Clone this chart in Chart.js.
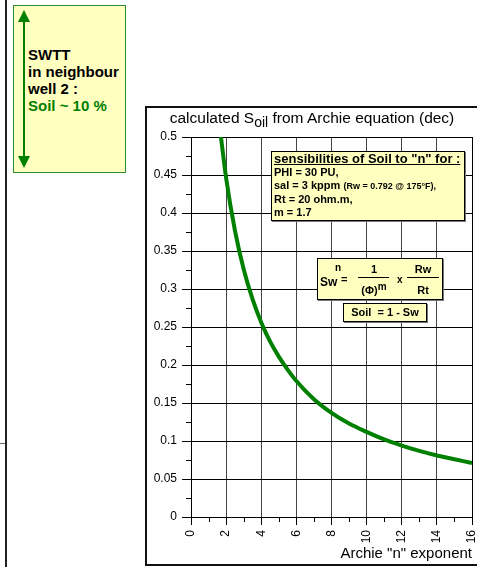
<!DOCTYPE html>
<html><head><meta charset="utf-8">
<script src="https://cdn.jsdelivr.net/npm/chart.js@4/dist/chart.umd.min.js"></script>
<style>
html,body{margin:0;padding:0;background:#fff}
body{width:477px;height:567px;overflow:hidden;position:relative;font-family:"Liberation Sans",Arial,Helvetica,sans-serif;color:#000}
#c{position:absolute;left:0;top:0}
.abs{position:absolute}
#outer{left:145px;top:106px;width:345px;height:460px;border:2px solid #111;box-sizing:border-box}
#leftline{left:5px;top:0;width:2px;height:567px;background:#222}
#lefttick{left:0;top:443px;width:5px;height:1px;background:#666}
#swtt{left:13px;top:5px;width:113px;height:168px;background:#ffffc0;border:1.5px solid #2e8b2e;box-sizing:border-box}
#swtttext{left:28px;top:46px;font-weight:bold;font-size:15px;line-height:17px;white-space:nowrap}
#title{left:145px;width:334px;top:109px;text-align:center;font-size:15.5px;line-height:17px;white-space:nowrap}
#title sub{font-size:14px;vertical-align:-4px;line-height:0}
#note{left:271px;top:151px;width:194px;height:70px;background:#ffffc0;border:1px solid #000;box-sizing:border-box;box-shadow:1px 1px 0 #777;font-weight:bold;font-size:11px;line-height:13px;padding:0 0 0 2px;white-space:nowrap}
#note .t{font-size:13px;text-decoration:underline}
#note .small{font-size:9px}
#formula{left:317px;top:258px;width:126px;height:42px;background:#ffffc0;border:1px solid #000;box-sizing:border-box;box-shadow:1px 1px 0 #777;font-weight:bold;font-size:11px}
#formula span{position:absolute;line-height:12px;white-space:nowrap}
#formula .c{text-align:center}
#formula .bar{position:absolute;height:1px;background:#000}
#soilbox{left:343px;top:303px;width:84px;height:19px;background:#ffffc0;border:1px solid #000;box-sizing:border-box;box-shadow:1px 1px 0 #777;font-weight:bold;font-size:11px;line-height:17px;text-align:center;white-space:pre}
</style></head><body>
<div id="outer" class="abs"></div>
<canvas id="c" width="477" height="567"></canvas>
<div id="leftline" class="abs"></div>
<div id="lefttick" class="abs"></div>
<div id="swtt" class="abs"></div>
<svg class="abs" style="left:0;top:0" width="40" height="180">
<line x1="24" y1="20" x2="24" y2="158" stroke="#008000" stroke-width="2"/>
<polygon points="24,10 18,22 30,22" fill="#008000"/>
<polygon points="24,168 18,156 30,156" fill="#008000"/>
</svg>
<div id="swtttext" class="abs">SWTT<br>in neighbour<br>well 2 :<br><span style="color:#008000">Soil ~ 10 %</span></div>
<div id="title" class="abs">calculated S<sub>oil</sub> from Archie equation (dec)</div>
<div id="note" class="abs"><span class="t">sensibilities of Soil to "n" for :</span><br>PHI = 30 PU,<br>sal = 3 kppm <span class="small">(Rw = 0.792 @ 175°F),</span><br>Rt = 20 ohm.m,<br>m = 1.7</div>
<div id="formula" class="abs">
<span style="left:2px;top:17px;font-size:12px">Sw</span>
<span style="left:17px;top:3px;font-size:10px">n</span>
<span style="left:23px;top:14px">=</span>
<span class="c" style="left:40px;width:32px;top:4px">1</span>
<div class="bar" style="left:40px;width:31px;top:18px"></div>
<span class="c" style="left:40px;width:32px;top:25px">(Φ)<sup style="font-size:10px;vertical-align:4px;line-height:0">m</sup></span>
<span style="left:79px;top:15px;font-size:10px">x</span>
<span class="c" style="left:88px;width:34px;top:4px">Rw</span>
<div class="bar" style="left:89px;width:32px;top:18px"></div>
<span class="c" style="left:88px;width:34px;top:25px">Rt</span>
</div>
<div id="soilbox" class="abs">Soil  = 1 - Sw</div>
<script>
const archieN = [1.7, 2, 2.5, 3, 3.5, 4, 4.5, 5, 5.5, 6, 7, 8, 9, 10, 11, 12, 13, 14, 15, 16];
const soilFraction = [0.501, 0.446, 0.377, 0.326, 0.287, 0.256, 0.231, 0.211, 0.194, 0.179, 0.155, 0.137, 0.123, 0.112, 0.102, 0.094, 0.087, 0.081, 0.076, 0.071];
const xTickLabels = ["0", "2", "4", "6", "8", "10", "12", "14", "16"];
const yTickLabels = ["0", "0.05", "0.1", "0.15", "0.2", "0.25", "0.3", "0.35", "0.4", "0.45", "0.5"];

const points = archieN.map((n, i) => ({x: n, y: soilFraction[i]}));
const isMajorY = v => Math.round(v * 1000) % 50 === 0;
const isMajorX = v => Math.round(v) % 2 === 0;

const extras = {
  id: 'extras',
  afterDraw(chart) {
    const ctx = chart.ctx, y = chart.scales.y, x = chart.scales.x, a = chart.chartArea;
    ctx.save();
    ctx.strokeStyle = '#000'; ctx.lineWidth = 1;
    y.ticks.forEach(t => {
      if (!isMajorY(t.value)) {
        const p = Math.round(y.getPixelForValue(t.value)) + 0.5;
        ctx.beginPath(); ctx.moveTo(a.left - 5, p); ctx.lineTo(a.left, p); ctx.stroke();
      }
    });
    x.ticks.forEach(t => {
      if (!isMajorX(t.value)) {
        const p = Math.round(x.getPixelForValue(t.value)) + 0.5;
        ctx.beginPath(); ctx.moveTo(p, a.bottom); ctx.lineTo(p, a.bottom + 5); ctx.stroke();
      }
    });
    const r = Math.round(x.getPixelForValue(16)) + 0.5;
    ctx.beginPath(); ctx.moveTo(r, a.top); ctx.lineTo(r, a.bottom); ctx.stroke();
    ctx.restore();
  }
};

new Chart(document.getElementById('c'), {
  type: 'line',
  data: { datasets: [{
    data: points, borderColor: '#008000', borderWidth: 4, pointRadius: 0,
    tension: 0.4, cubicInterpolationMode: 'monotone', fill: false
  }]},
  options: {
    responsive: false, animation: false,
    layout: { padding: { left: 145, top: 137, right: 5, bottom: 4 } },
    plugins: { legend: { display: false }, tooltip: { enabled: false } },
    scales: {
      x: {
        type: 'linear', min: 0, max: 16,
        ticks: {
          stepSize: 1, autoSkip: false, maxRotation: 90, minRotation: 90,
          font: { family: '"Liberation Sans", Arial', size: 12 }, color: '#000', padding: 5,
          callback: v => isMajorX(v) ? xTickLabels[Math.round(v) / 2] : ''
        },
        grid: {
          color: c => (c.tick && isMajorX(c.tick.value)) ? '#444' : 'rgba(0,0,0,0)',
          tickColor: c => (c.tick && isMajorX(c.tick.value)) ? '#000' : 'rgba(0,0,0,0)',
          tickLength: 8, lineWidth: 1
        },
        border: { color: '#000', width: 1 },
        title: { display: true, text: 'Archie "n" exponent', align: 'end', color: '#000',
          font: { family: '"Liberation Sans", Arial', size: 15 }, padding: 0 },
        afterFit: s => { s.height = 46; s.paddingLeft = 0; s.paddingRight = 0; }
      },
      y: {
        min: 0, max: 0.5,
        ticks: {
          stepSize: 0.025, autoSkip: false,
          font: { family: '"Liberation Sans", Arial', size: 12 }, color: '#000', padding: 5,
          callback: v => isMajorY(v) ? yTickLabels[Math.round(v * 1000) / 50] : ''
        },
        grid: {
          color: c => (c.tick && isMajorY(c.tick.value)) ? '#000' : 'rgba(0,0,0,0)',
          tickColor: c => (c.tick && isMajorY(c.tick.value)) ? '#000' : 'rgba(0,0,0,0)',
          tickLength: 9, lineWidth: 1
        },
        border: { color: '#000', width: 1 },
        afterFit: s => { s.width = 46; s.paddingTop = 0; s.paddingBottom = 0; }
      }
    }
  },
  plugins: [extras]
});
</script>
</body></html>
